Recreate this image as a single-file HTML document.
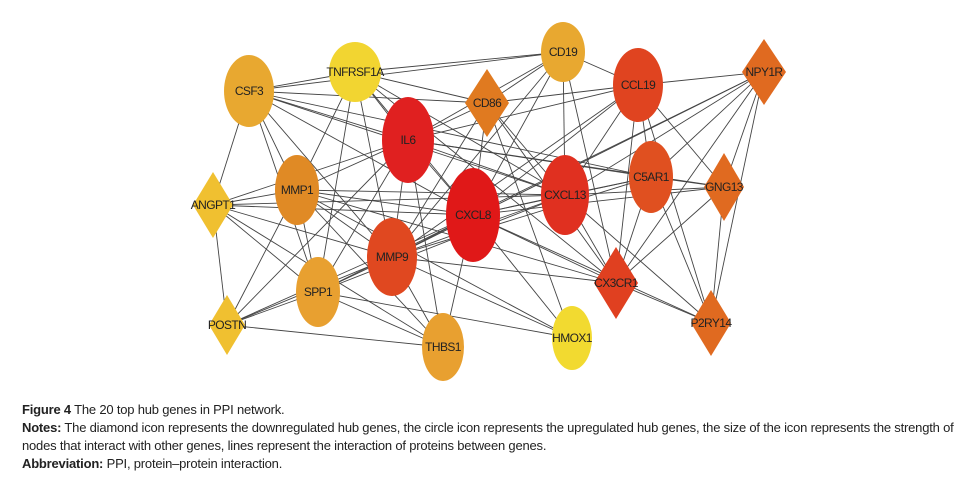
<!DOCTYPE html>
<html><head><meta charset="utf-8"><style>
html,body{margin:0;padding:0;background:#fff;width:971px;height:478px;overflow:hidden}
svg{position:absolute;left:0;top:0}
.cap{position:absolute;left:22px;font-family:"Liberation Sans",sans-serif;font-size:13px;color:#222;white-space:nowrap;letter-spacing:-0.2px}
.cap b{font-weight:bold}
text{font-family:"Liberation Sans",sans-serif;font-size:12px;fill:#222;text-anchor:middle;dominant-baseline:central;letter-spacing:-0.6px}
</style></head><body>
<svg width="971" height="390" viewBox="0 0 971 390">
<g id="edges" stroke="#444" stroke-width="0.9"></g>
<g id="nodes">
<ellipse cx="249" cy="91" rx="25" ry="36" fill="#E8A830"/>
<ellipse cx="355" cy="72" rx="26" ry="30" fill="#F2D531"/>
<ellipse cx="563" cy="52" rx="22" ry="30" fill="#E8A830"/>
<ellipse cx="638" cy="85" rx="25" ry="37" fill="#E04420"/>
<polygon points="764,39 786,72 764,105 742,72" fill="#E06A20"/>
<polygon points="487,69 509,103 487,137 465,103" fill="#E07A20"/>
<ellipse cx="408" cy="140" rx="26" ry="43" fill="#E02020"/>
<ellipse cx="651" cy="177" rx="22" ry="36" fill="#E05020"/>
<polygon points="724,153 744,187 724,221 704,187" fill="#E06A20"/>
<ellipse cx="565" cy="195" rx="24" ry="40" fill="#E03020"/>
<ellipse cx="473" cy="215" rx="27" ry="47" fill="#E01818"/>
<ellipse cx="297" cy="190" rx="22" ry="35" fill="#E08A25"/>
<polygon points="213,172 233,205 213,238 193,205" fill="#F0C030"/>
<ellipse cx="392" cy="257" rx="25" ry="39" fill="#E04820"/>
<ellipse cx="318" cy="292" rx="22" ry="35" fill="#E8A030"/>
<polygon points="616,247 638,283 616,319 594,283" fill="#E04020"/>
<polygon points="711,290 731,323 711,356 691,323" fill="#E06A20"/>
<polygon points="227,295 245,325 227,355 209,325" fill="#F0C030"/>
<ellipse cx="443" cy="347" rx="21" ry="34" fill="#E8A030"/>
<ellipse cx="572" cy="338" rx="20" ry="32" fill="#F2DA30"/>
</g>
<g>
<text x="249" y="91">CSF3</text>
<text x="355" y="72">TNFRSF1A</text>
<text x="563" y="52">CD19</text>
<text x="638" y="85">CCL19</text>
<text x="764" y="72">NPY1R</text>
<text x="487" y="103">CD86</text>
<text x="408" y="140">IL6</text>
<text x="651" y="177">C5AR1</text>
<text x="724" y="187">GNG13</text>
<text x="565" y="195">CXCL13</text>
<text x="473" y="215">CXCL8</text>
<text x="297" y="190">MMP1</text>
<text x="213" y="205">ANGPT1</text>
<text x="392" y="257">MMP9</text>
<text x="318" y="292">SPP1</text>
<text x="616" y="283">CX3CR1</text>
<text x="711" y="323">P2RY14</text>
<text x="227" y="325">POSTN</text>
<text x="443" y="347">THBS1</text>
<text x="572" y="338">HMOX1</text>
</g>
</svg>
<div class="cap" style="top:402px"><b>Figure 4</b> The 20 top hub genes in PPI network.</div>
<div class="cap" style="top:420px"><b>Notes:</b> The diamond icon represents the downregulated hub genes, the circle icon represents the upregulated hub genes, the size of the icon represents the strength of</div>
<div class="cap" style="top:438px">nodes that interact with other genes, lines represent the interaction of proteins between genes.</div>
<div class="cap" style="top:456px"><b>Abbreviation:</b> PPI, protein–protein interaction.</div>
<script>
var P={CSF3:[249,91],TNFRSF1A:[355,72],CD19:[563,52],CCL19:[638,85],NPY1R:[764,72],CD86:[487,103],IL6:[408,140],C5AR1:[651,177],GNG13:[724,187],CXCL13:[565,195],CXCL8:[473,215],MMP1:[297,190],ANGPT1:[213,205],MMP9:[392,257],SPP1:[318,292],CX3CR1:[616,283],P2RY14:[711,323],POSTN:[227,325],THBS1:[443,347],HMOX1:[572,338]};
var E={CSF3:"TNFRSF1A CD19 CD86 IL6 CXCL8 CXCL13 MMP1 ANGPT1 MMP9 SPP1 C5AR1",
TNFRSF1A:"CD19 CD86 IL6 CXCL8 MMP1 MMP9 SPP1 CXCL13 CX3CR1",
CD19:"CD86 IL6 CXCL8 CCL19 CXCL13 CX3CR1 MMP9",
CCL19:"NPY1R CD86 IL6 CXCL8 CXCL13 C5AR1 GNG13 CX3CR1 P2RY14 MMP9",
NPY1R:"CXCL13 CXCL8 C5AR1 GNG13 CX3CR1 P2RY14 MMP9",
CD86:"IL6 CXCL8 CXCL13 CX3CR1 HMOX1 MMP9",
IL6:"CXCL8 CXCL13 C5AR1 MMP1 ANGPT1 MMP9 SPP1 THBS1 POSTN GNG13",
C5AR1:"CXCL8 CXCL13 GNG13 CX3CR1 P2RY14 MMP9",
GNG13:"CXCL13 CXCL8 CX3CR1 P2RY14",
CXCL13:"CXCL8 CX3CR1 P2RY14 MMP9 SPP1 MMP1",
CXCL8:"MMP1 ANGPT1 MMP9 SPP1 THBS1 HMOX1 CX3CR1 POSTN P2RY14",
MMP1:"ANGPT1 MMP9 SPP1 THBS1 HMOX1 CX3CR1 POSTN",
ANGPT1:"MMP9 SPP1 THBS1 POSTN CXCL13",
MMP9:"SPP1 THBS1 HMOX1 CX3CR1 POSTN",
SPP1:"THBS1 HMOX1 POSTN",POSTN:"THBS1",CX3CR1:"P2RY14"};
var g=document.getElementById('edges'),s='';
for(var a in E){E[a].split(' ').forEach(function(b){var p=P[a],q=P[b];s+='<line x1="'+p[0]+'" y1="'+p[1]+'" x2="'+q[0]+'" y2="'+q[1]+'"/>';});}
g.innerHTML=s;
</script>
</body></html>
